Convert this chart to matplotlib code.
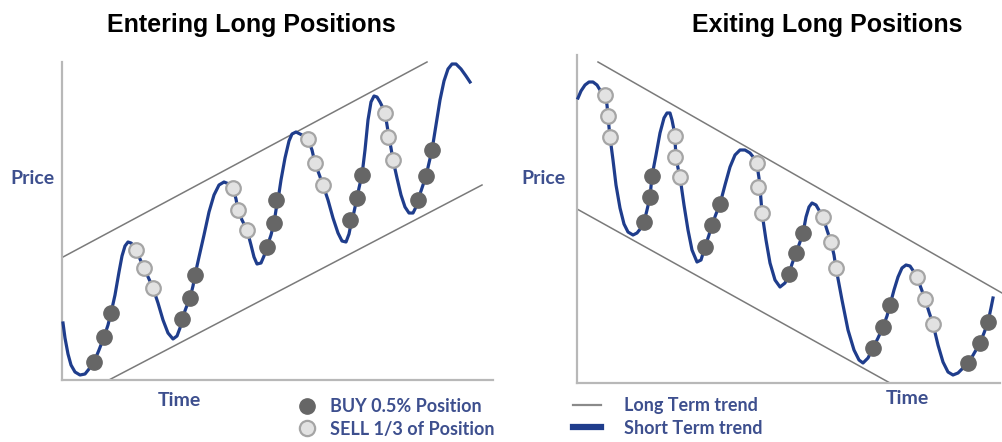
import matplotlib
matplotlib.use('Agg')
import matplotlib.pyplot as plt
from matplotlib.lines import Line2D

# ---- left panel: entering long positions (time, price) ----
enter_time = [1, 3, 6, 9, 13, 18, 23, 27, 32, 37, 42, 46, 49, 53, 57, 60, 63, 66, 69, 72,
              74, 78, 82, 87, 91, 96, 101, 106, 111, 115, 118, 120, 124, 128, 131, 133, 137,
              142, 147, 152, 157, 162, 167, 171, 174, 176, 180, 185, 189, 192, 195, 199, 202,
              205, 209, 212, 214, 216, 219, 223, 227, 230, 234, 238, 242, 246, 250, 253, 257,
              261, 266, 271, 276, 280, 284, 287, 289, 292, 295, 297, 300, 303, 306, 309, 312,
              315, 318, 321, 323, 325, 327, 329, 331, 335, 339, 343, 347, 351, 354, 356, 360,
              364, 367, 370, 374, 378, 382, 386, 390, 394, 399, 404, 408]
enter_price = [57, 42, 26, 15, 8, 5, 6, 11, 18, 30, 43, 55, 67, 85, 108, 124, 134, 138, 137,
               134, 130, 121, 112, 101, 92, 77, 60, 47, 41, 44, 52, 61, 72, 82, 94, 105, 123,
               145, 168, 185, 195, 198, 196, 192, 181, 170, 160, 150, 135, 123, 116, 117, 124,
               133, 145, 157, 170, 180, 200, 222, 239, 246, 248, 246, 244, 241, 230, 217, 206,
               195, 180, 162, 147, 139, 138, 146, 156, 168, 182, 192, 205, 230, 260, 278, 284,
               283, 278, 272, 267, 255, 243, 232, 220, 202, 185, 173, 167, 167, 173, 180, 192,
               204, 217, 230, 255, 280, 299, 311, 316, 316, 311, 304, 298]
enter_buy_t = [32, 42, 49, 120, 128, 133, 205, 212, 214, 288, 295, 300, 356, 364, 370]
enter_buy_p = [18, 43, 67, 61, 82, 105, 133, 157, 180, 160, 182, 205, 180, 204, 230]
enter_sell_t = [74, 82, 91, 171, 176, 185, 246, 253, 261, 323, 326, 331]
enter_sell_p = [130, 112, 92, 192, 170, 150, 241, 217, 195, 267, 243, 220]
enter_upper_t, enter_upper_p = [1, 365], [123, 318]
enter_lower_t, enter_lower_p = [45, 420], [-1, 195]

# ---- right panel: exiting long positions ----
exit_time = [1, 4, 8, 12, 16, 20, 23, 28, 30, 31, 32, 33, 36, 39, 43, 47, 51, 56, 60, 64,
             67, 70, 73, 75, 79, 83, 87, 90, 93, 95, 97, 98, 99, 101, 103, 107, 111, 115, 120,
             124, 128, 132, 135, 139, 143, 148, 153, 158, 163, 168, 173, 177, 180, 182, 183,
             184, 185, 189, 193, 198, 203, 208, 212, 215, 219, 223, 226, 229, 232, 235, 239,
             243, 246, 250, 254, 257, 259, 265, 271, 277, 282, 286, 291, 296, 301, 306, 310,
             313, 317, 321, 325, 329, 333, 337, 340, 344, 348, 352, 356, 361, 366, 371, 376,
             381, 386, 391, 395, 399, 403, 407, 411, 414, 416]
exit_price = [285, 292, 298, 301, 301, 298, 293, 288, 278, 267, 256, 246, 223, 198, 175, 159,
              151, 148, 150, 155, 161, 173, 186, 207, 228, 250, 265, 270, 270, 263, 253, 243,
              226, 215, 206, 178, 153, 133, 121, 123, 136, 148, 158, 169, 179, 198, 216, 228,
              233, 233, 230, 225, 218, 205, 196, 183, 170, 143, 120, 103, 96, 100, 109, 119,
              130, 141, 150, 166, 176, 180, 178, 171, 166, 153, 141, 128, 115, 83, 53, 33, 23,
              20, 25, 35, 45, 56, 67, 78, 93, 106, 115, 118, 117, 111, 106, 95, 84, 71, 59, 38,
              21, 11, 8, 10, 15, 20, 26, 33, 40, 50, 61, 75, 85]
exit_buy_t = [67, 73, 75, 128, 135, 143, 212, 219, 226, 296, 306, 313, 391, 403, 411]
exit_buy_p = [161, 186, 207, 136, 158, 179, 109, 130, 150, 35, 56, 78, 20, 40, 61]
exit_sell_t = [28, 31, 33, 98, 98, 103, 180, 181, 185, 246, 254, 259, 340, 348, 356]
exit_sell_p = [288, 267, 246, 247, 226, 206, 220, 196, 170, 166, 141, 115, 106, 84, 59]
exit_upper_t, exit_upper_p = [21, 425], [321, 90]
exit_lower_t, exit_lower_p = [0, 313], [174, 0]

W, H = 1002, 442
NAVY = '#1f3d8c'
LABEL = '#3d4f8e'
TREND = '#7a7a7a'
AXIS = '#b8b8b8'
BUY = '#666666'
SELL = '#e2e2e2'
SELL_EDGE = '#a5a5a5'

fig = plt.figure(figsize=(W / 100, H / 100), dpi=100)


def px_axes(x0, y0, x1, y1):
    # axes box given in picture pixels (top-left origin)
    return fig.add_axes([x0 / W, 1 - y1 / H, (x1 - x0) / W, (y1 - y0) / H])


def ftext(x, y, s, **kw):
    fig.text(x / W, 1 - y / H, s, ha='center', va='center', **kw)


def panel(ax, t, p, bt, bp, st, sp, ut, up, lt, lp, xmax, ymax):
    ax.plot(ut, up, color=TREND, lw=1.1, clip_on=False)
    ax.plot(lt, lp, color=TREND, lw=1.1)
    ax.plot(t, p, color=NAVY, lw=2.3, clip_on=False, zorder=3)
    ax.plot(bt, bp, 'o', ms=11, color=BUY, mec=BUY, zorder=4, clip_on=False)
    ax.plot(st, sp, 'o', ms=10.5, color=SELL, mec=SELL_EDGE, mew=1.6, zorder=4, clip_on=False)
    ax.set_xlim(0, xmax)
    ax.set_ylim(0, ymax)
    for side in ['top', 'right']:
        ax.spines[side].set_visible(False)
    for side in ['left', 'bottom']:
        ax.spines[side].set_color(AXIS)
        ax.spines[side].set_linewidth(1.6)
    ax.set_xticks([])
    ax.set_yticks([])
    ax.patch.set_alpha(0)


ax1 = px_axes(62, 62, 493, 380)
panel(ax1, enter_time, enter_price, enter_buy_t, enter_buy_p, enter_sell_t, enter_sell_p,
      enter_upper_t, enter_upper_p, enter_lower_t, enter_lower_p, 431, 318)

ax2 = px_axes(577, 55, 1000, 383)
panel(ax2, exit_time, exit_price, exit_buy_t, exit_buy_p, exit_sell_t, exit_sell_p,
      exit_upper_t, exit_upper_p, exit_lower_t, exit_lower_p, 423, 328)

title_font = dict(family='Liberation Sans', weight='bold', size=18, color='black')
ftext(251, 25, 'Entering Long Positions', **title_font)
ftext(827, 25, 'Exiting Long Positions', **title_font)

lab_font = dict(family='Lato', weight='bold', size=14, color=LABEL)
ftext(32, 178, 'Price', **lab_font)
ftext(543, 178, 'Price', **lab_font)
ftext(179, 401, 'Time', **lab_font)
ftext(907, 398, 'Time', **lab_font)

leg_font = {'family': 'Lato', 'weight': 'bold', 'size': 13}
h_buy = Line2D([], [], ls='none', marker='o', ms=11, color=BUY)
h_sell = Line2D([], [], ls='none', marker='o', ms=11, color=SELL, mec=SELL_EDGE, mew=1.6)
leg1 = fig.legend([h_buy, h_sell], ['BUY 0.5% Position', 'SELL 1/3 of Position'],
                  loc='center left', bbox_to_anchor=(298 / W, 1 - 418 / H), frameon=False,
                  prop=leg_font, labelcolor=LABEL, handlelength=1.0, handletextpad=0.75,
                  labelspacing=0.28, borderpad=0, borderaxespad=0)

h_long = Line2D([], [], color='#8a8a8a', lw=1.6)
h_short = Line2D([], [], color=NAVY, lw=4.5)
leg2 = fig.legend([h_long, h_short], ['Long Term trend', 'Short Term trend'],
                  loc='center left', bbox_to_anchor=(573 / W, 1 - 417 / H), frameon=False,
                  prop=leg_font, labelcolor=LABEL, handlelength=1.55, handletextpad=1.25,
                  labelspacing=0.28, borderpad=0, borderaxespad=0)

fig.savefig('out.png', dpi=100)
